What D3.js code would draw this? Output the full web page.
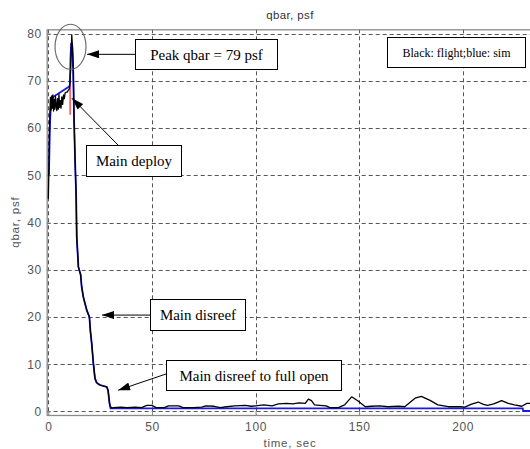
<!DOCTYPE html>
<html>
<head>
<meta charset="utf-8">
<script src="https://cdn.jsdelivr.net/npm/d3@7"></script>
<style>
  html, body { margin: 0; padding: 0; background: #fff; }
  svg { display: block; }
</style>
</head>
<body>
<svg id="chart" width="530" height="449"></svg>
<script>
// ---------------- DATA ----------------
const xTicks = [0, 50, 100, 150, 200];
const yTicks = [0, 10, 20, 30, 40, 50, 60, 70, 80];

// Flight (black)
const flightTime = [0, 0.2, 0.4, 0.6, 0.8, 1.0, 1.3, 1.6, 1.9, 2.2, 2.5, 2.8, 3.1, 3.4, 3.8, 4.1, 4.4, 4.8, 5.1, 5.4, 5.8, 6.1, 6.5, 6.9, 7.3, 7.7, 8.1, 8.6, 9.1, 9.6, 10.2, 10.7, 11.0, 11.3, 11.6, 11.9, 12.1, 12.4, 12.9, 13.4, 13.7, 14.5, 15.6, 16.1, 16.9, 17.6, 18.5, 19.8, 20.3, 20.9, 21.7, 22.5, 23.3, 24.3, 25.0, 26.2, 27.2, 28.2, 28.8, 29.2, 29.5, 29.8, 30.6, 31.5, 35, 38, 42, 45, 47.5, 50, 52, 56, 58, 63, 65, 70, 74, 76, 80, 83, 86, 90, 95, 98, 100, 104, 108, 111, 115, 118, 121, 124, 125.5, 127, 128.5, 131, 134, 136, 140, 143, 146.4, 149.5, 153, 156, 160, 164, 169, 172, 177, 180, 184, 188, 193, 199, 201, 204, 207.5, 210, 212, 215, 218.8, 222, 225, 228.5, 231, 234];
const flightQbar = [45, 50, 56, 61, 64, 66.5, 63.8, 66.8, 64.2, 67, 63.6, 66, 64, 66.8, 64.5, 63.7, 66.2, 64, 67.2, 64.4, 65.8, 64.2, 66.6, 65, 67, 66.2, 67.4, 67.6, 67.6, 68, 68.3, 72, 76, 79.7, 77.5, 74.8, 70, 62, 53, 46, 37, 30.6, 28.9, 26.3, 24.2, 23, 21.5, 20, 17, 14.5, 10.3, 7, 6.1, 5.7, 5.6, 5.4, 5.3, 5.2, 4.5, 3.0, 1.8, 1.2, 0.7, 0.8, 0.9, 0.8, 0.9, 0.8, 1.3, 1.3, 0.8, 0.8, 1.2, 1.2, 0.8, 0.8, 0.9, 1.2, 1.1, 0.8, 1.0, 1.2, 1.3, 1.1, 1.2, 1.4, 1.2, 1.6, 1.7, 1.6, 1.8, 1.7, 2.6, 2.3, 1.4, 1.3, 1.2, 0.8, 0.8, 1.4, 3.1, 2.2, 1.0, 1.1, 1.2, 1.0, 1.1, 1.0, 2.8, 3.2, 2.4, 1.4, 1.0, 1.0, 0.9, 1.5, 2.0, 1.5, 1.3, 1.6, 2.3, 1.7, 1.4, 1.1, 1.7, 1.7];

// Simulation (blue)
const simTime = [0.3, 0.5, 0.7, 0.9, 1.3, 2.4, 9.7, 10.4, 10.7, 11.0, 11.5, 12.0, 12.4, 12.9, 13.4, 13.7, 14.5, 15.6, 16.1, 16.9, 17.6, 18.5, 19.8, 20.3, 20.9, 21.7, 22.5, 23.3, 25.0, 28.2, 28.8, 29.2, 29.5, 30.0, 229.0, 229.2, 234];
const simQbar = [50, 55, 59, 62, 65.5, 66.6, 68.7, 69, 75, 78, 77.5, 72, 62, 53, 46, 37, 30.6, 28.9, 26.3, 24.2, 23, 21.5, 20, 17, 14.5, 10.3, 7, 6.1, 5.6, 5.2, 4.5, 3, 1.8, 0.65, 0.65, 0.1, 0.1];

// Main deploy event marker (red)
const deployTime = [10.5, 10.5];
const deployQbar = [62.8, 69.1];

// ---------------- LAYOUT ----------------
const svg = d3.select("#chart");
const x = d3.scaleLinear().domain([-0.8, 233.6]).range([46.7, 532.3]);
const y = d3.scaleLinear().domain([-0.75, 80.9]).range([415, 29.3]);
const pL = x.range()[0], pR = x.range()[1], pT = y.range()[1], pB = y.range()[0];

const tickFont = "'Liberation Sans', Arial, sans-serif";
const serif = "'Liberation Serif', 'Times New Roman', serif";

// defs
const defs = svg.append("defs");
defs.append("clipPath").attr("id", "plotclip")
  .append("rect").attr("x", pL).attr("y", pT).attr("width", pR - pL).attr("height", pB - pT);
defs.append("marker").attr("id", "arrow")
  .attr("viewBox", "0 0 12 8").attr("refX", 12).attr("refY", 4)
  .attr("markerWidth", 12).attr("markerHeight", 8).attr("markerUnits", "userSpaceOnUse")
  .attr("orient", "auto")
  .append("path").attr("d", "M0,0 L12,4 L0,8 Z").attr("fill", "#000");

// plot background
svg.append("rect").attr("x", pL).attr("y", pT).attr("width", pR - pL).attr("height", pB - pT)
  .attr("fill", "#fff");

// grid
const grid = svg.append("g").attr("clip-path", "url(#plotclip)");
grid.selectAll("line.gx").data(xTicks).join("line")
  .attr("x1", d => Math.round(x(d)) + 0.5).attr("x2", d => Math.round(x(d)) + 0.5)
  .attr("y1", pT).attr("y2", pB)
  .attr("stroke", "#555").attr("stroke-width", 1).attr("stroke-dasharray", "4,3");
grid.selectAll("line.gy").data(yTicks).join("line")
  .attr("y1", d => Math.round(y(d)) + 0.5).attr("y2", d => Math.round(y(d)) + 0.5)
  .attr("x1", pL).attr("x2", pR)
  .attr("stroke", "#555").attr("stroke-width", 1).attr("stroke-dasharray", "4,3");

// axes (ticks inside, labels outside)
const xAxis = d3.axisBottom(x).tickValues(xTicks).tickSize(-4).tickPadding(7).tickFormat(d3.format("d"));
const yAxis = d3.axisLeft(y).tickValues(yTicks).tickSize(-4).tickPadding(5).tickFormat(d3.format("d"));
const gx = svg.append("g").attr("transform", `translate(0,${pB})`).call(xAxis);
const gy = svg.append("g").attr("transform", `translate(${pL},0)`).call(yAxis);
[gx, gy].forEach(g => {
  g.select(".domain").remove();
  g.selectAll(".tick line").attr("stroke", "#888");
  g.selectAll(".tick text").attr("fill", "#555").style("font-family", tickFont).style("font-size", "12px")
    .style("letter-spacing", "0.6px");
});

// box
svg.append("rect").attr("x", pL + 0.5).attr("y", pT + 0.5)
  .attr("width", pR - pL).attr("height", pB - pT)
  .attr("fill", "none").attr("stroke", "#8a8a8a").attr("stroke-width", 1.3);

// series
const plot = svg.append("g").attr("clip-path", "url(#plotclip)");
const line = d3.line().x(d => x(d[0])).y(d => y(d[1]));
plot.append("path").datum(d3.zip(simTime, simQbar)).attr("d", line)
  .attr("fill", "none").attr("stroke", "#1a1ae6").attr("stroke-width", 1.8);
plot.append("path").datum(d3.zip(deployTime, deployQbar)).attr("d", line)
  .attr("fill", "none").attr("stroke", "#ff3030").attr("stroke-width", 1.3);
plot.append("path").datum(d3.zip(flightTime, flightQbar)).attr("d", line)
  .attr("fill", "none").attr("stroke", "#000").attr("stroke-width", 1.3).attr("stroke-linejoin", "round");

// titles
svg.append("text").attr("x", 290).attr("y", 19).attr("text-anchor", "middle")
  .style("font-family", tickFont).style("font-size", "11.5px").style("letter-spacing", "0.4px")
  .attr("fill", "#333").text("qbar, psf");
svg.append("text").attr("x", 290).attr("y", 447).attr("text-anchor", "middle")
  .style("font-family", tickFont).style("font-size", "11.5px").style("letter-spacing", "0.8px")
  .attr("fill", "#555").text("time, sec");
svg.append("text").attr("transform", `translate(19,${(pT + pB) / 2}) rotate(-90)`).attr("text-anchor", "middle")
  .style("font-family", tickFont).style("font-size", "11.5px").style("letter-spacing", "0.8px")
  .attr("fill", "#555").text("qbar, psf");

// annotations
const ann = svg.append("g");
ann.append("ellipse").attr("cx", x(10.7)).attr("cy", y(77.2)).attr("rx", 15.5).attr("ry", 22.5)
  .attr("fill", "none").attr("stroke", "#666").attr("stroke-width", 1.1);

function textBox(x0, y0, w, h, label, size) {
  ann.append("rect").attr("x", x0 + 0.5).attr("y", y0 + 0.5).attr("width", w).attr("height", h)
    .attr("fill", "#fff").attr("stroke", "#000").attr("stroke-width", 1);
  ann.append("text").attr("x", x0 + w / 2 + 0.5).attr("y", y0 + h / 2 + 0.5).attr("dy", "0.35em")
    .attr("text-anchor", "middle").style("font-family", serif).style("font-size", size + "px")
    .attr("fill", "#000").text(label);
}
function arrow(x1, y1, x2, y2) {
  ann.append("line").attr("x1", x1).attr("y1", y1).attr("x2", x2).attr("y2", y2)
    .attr("stroke", "#000").attr("stroke-width", 1).attr("marker-end", "url(#arrow)");
}

arrow(135, y(75.6), x(18.7), y(75.6));
textBox(135, 39, 142, 30, "Peak qbar = 79 psf", 15);

arrow(118, 145, x(11.4), y(66.3));
textBox(86, 145, 95, 31, "Main deploy", 15);

textBox(387, 37, 138, 30, "Black: flight;blue: sim", 12);

arrow(150, y(20.4), x(25.9), y(20.4));
textBox(150, 299, 95, 31, "Main disreef", 15);

arrow(166, 374, x(33.7), y(4.5));
textBox(166, 360, 175, 30, "Main disreef to full open", 15);
</script>
</body>
</html>
